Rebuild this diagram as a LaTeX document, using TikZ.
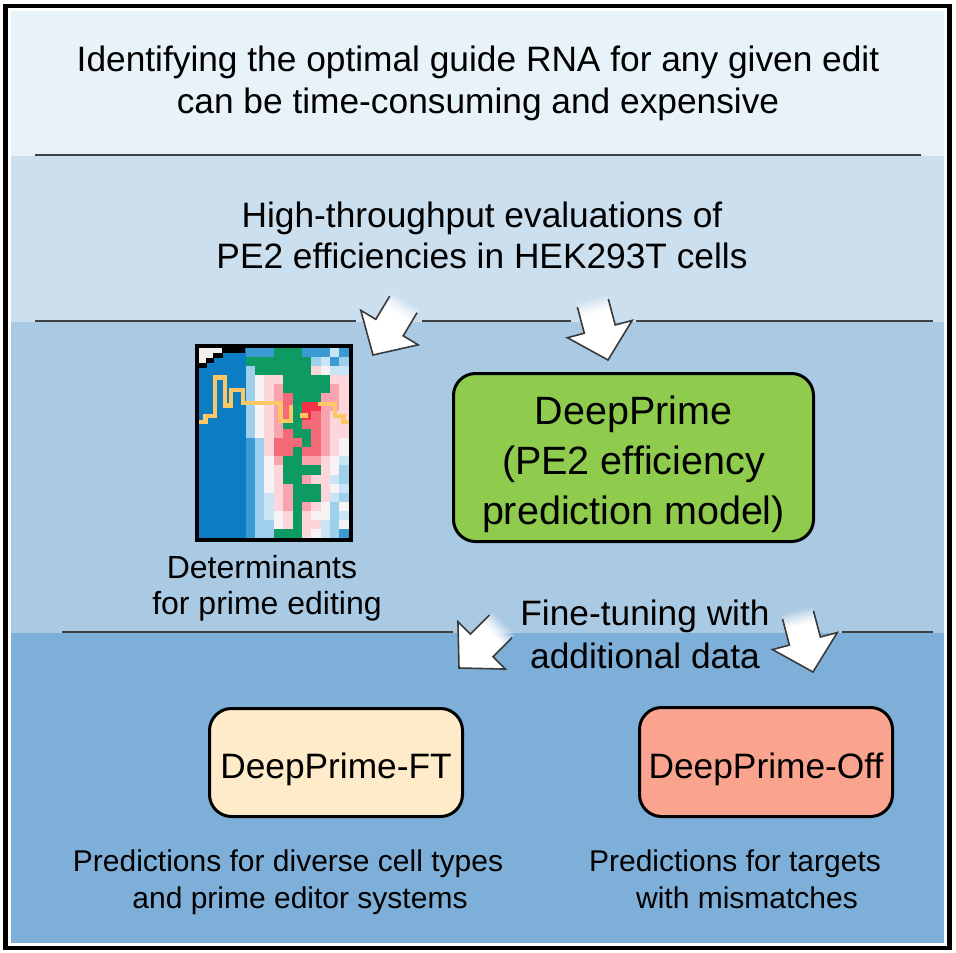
\documentclass[tikz,border=0pt]{standalone}
\usepackage{fontspec}
\setmainfont{Liberation Sans}
\definecolor{bandA}{HTML}{E7F2F9}
\definecolor{bandB}{HTML}{CBDFEF}
\definecolor{bandC}{HTML}{AACAE3}
\definecolor{bandD}{HTML}{7EAFD8}
\definecolor{divgray}{HTML}{3F3F3F}
\definecolor{arrgray}{HTML}{3A3A3A}
\definecolor{dpgreen}{HTML}{8FCC4E}
\definecolor{ftfill}{HTML}{FEEBC9}
\definecolor{offfill}{HTML}{FAA38F}
\definecolor{hmB}{HTML}{0C7DC2}
\definecolor{hmb}{HTML}{3C9AD2}
\definecolor{hmc}{HTML}{9ECFEC}
\definecolor{hml}{HTML}{C9E4F4}
\definecolor{hmw}{HTML}{F7F3F5}
\definecolor{hmp}{HTML}{FCD6DB}
\definecolor{hmq}{HTML}{F8A3AD}
\definecolor{hmr}{HTML}{F46A79}
\definecolor{hmR}{HTML}{F23246}
\definecolor{hmG}{HTML}{0E9A63}
\definecolor{hmW}{HTML}{F0F0F0}
\definecolor{hmY}{HTML}{FDC765}
\begin{document}
\begin{tikzpicture}[x=1pt,y=-1pt,
  divider/.style={draw=divgray, line width=2pt},
  bigtext/.style={font=\fontsize{35.3}{42}\selectfont, anchor=base, inner sep=0pt},
  boxtext/.style={font=\fontsize{39.5}{47}\selectfont, anchor=base, inner sep=0pt},
  midtext/.style={font=\fontsize{32}{38}\selectfont, anchor=base, inner sep=0pt},
  smalltext/.style={font=\fontsize{30}{36}\selectfont, anchor=base, inner sep=0pt},
  roundbox/.style={draw=black, line width=3pt, rounded corners=22pt, inner sep=0pt},
  arrowline/.style={draw=arrgray, line width=1.6pt, line join=miter},
  fadearrow/.pic={
    \begin{scope}
      \clip (-64,-16) -- (-32,-16) -- (-32,-33.5) -- (0,0) -- (-32,33.5) -- (-32,16) -- (-64,16) -- cycle;
      \foreach \i [evaluate=\i as \op using (\i+0.5)/12] in {0,...,11}
        {\fill[white, opacity=\op] ({-64+\i*1.3},-40) rectangle ({-64+(\i+1)*1.3+0.25},40);}
      \fill[white] (-48.5,-40) rectangle (2,40);
    \end{scope}
    \draw[arrowline] (-59,-16) -- (-32,-16) -- (-32,-33.5) -- (0,0) -- (-32,33.5) -- (-32,16) -- (-59,16);
  }]
\useasboundingbox (0,0) rectangle (956,953);
% frame
\draw[line width=4.3pt, fill=white] (5.5,6) rectangle (949.5,948);
% bands
\fill[bandA] (11,11) rectangle (943.5,155.5);
\fill[bandB] (11,155.5) rectangle (943.5,321.5);
\fill[bandC] (11,321.5) rectangle (943.5,632.5);
\fill[bandD] (11,632.5) rectangle (943.5,943);
% dividers
\draw[divider] (35,155) -- (921,155);
\draw[divider] (35,321) -- (356,321);
\draw[divider] (422,321) -- (571,321);
\draw[divider] (636,321) -- (933,321);
\draw[divider] (62,632) -- (453,632);
\draw[divider] (842,632) -- (933,632);
% texts top
\node[bigtext] (t1) at (478,71) {Identifying the optimal guide RNA for any given edit};
\node[bigtext] (t2) at (478,113) {can be time-consuming and expensive};
\node[bigtext] (h1) at (482,227) {High-throughput evaluations of};
\node[bigtext] (h2) at (482,268) {PE2 efficiencies in HEK293T cells};
% heatmap
\begin{scope}
\foreach \row [count=\j from 0] in {
 {B,B,B,B,B,b,b,b,G,G,G,b,b,b,l,b},
 {B,B,B,B,B,G,G,G,G,G,G,G,c,l,b,c},
 {B,B,B,B,B,c,G,G,G,G,G,G,p,w,l,l},
 {B,B,B,B,B,c,w,p,p,G,G,G,G,G,p,p},
 {B,B,B,B,B,c,w,p,q,G,G,G,G,G,q,p},
 {B,B,B,B,B,c,w,p,q,r,G,G,G,q,q,p},
 {B,B,B,B,B,c,w,p,q,r,G,R,R,q,q,p},
 {B,B,B,B,B,c,w,p,q,r,G,R,r,q,p,p},
 {B,B,B,B,B,c,w,p,q,G,G,r,r,q,p,p},
 {B,B,B,B,B,c,w,p,q,r,G,G,r,q,p,p},
 {B,B,B,B,B,b,c,p,r,r,r,G,r,q,p,w},
 {B,B,B,B,B,b,c,p,r,r,G,r,r,q,p,w},
 {B,B,B,B,B,b,c,w,q,G,G,q,q,p,w,l},
 {B,B,B,B,B,b,c,w,p,G,G,G,G,p,w,c},
 {B,B,B,B,B,b,c,w,p,G,G,q,p,p,l,c},
 {B,B,B,B,B,b,c,w,p,q,G,G,G,p,w,l},
 {B,B,B,B,B,b,c,l,p,q,G,G,G,p,l,c},
 {B,B,B,B,B,b,c,l,p,q,G,q,p,w,c,w},
 {B,B,B,B,B,b,c,l,w,p,G,p,w,w,c,l},
 {B,B,B,B,B,b,c,c,w,p,G,p,p,l,c,w},
 {B,B,B,B,B,b,c,c,G,G,G,p,w,l,c,b}}
{
  \foreach \c [count=\i from 0] in \row
    {\fill[hm\c] ({199+9.375*\i-0.2},{348+9.05*\j-0.2}) rectangle ({199+9.375*(\i+1)+0.2},{348+9.05*(\j+1)+0.2});}
}
\fill[hmW] (199,348) -- (222,348) -- (222,353) -- (213,353) -- (213,358) -- (206,358) -- (206,363) -- (199,363) -- cycle;
\fill[black] (222,348) rectangle (245,353);
\fill[black] (213,353) rectangle (222.5,358);
\fill[black] (206,358) rectangle (213.5,363);
\fill[black] (199,363) rectangle (206.5,368);
\draw[hmY, line width=4.5pt, line join=miter] (199,422) -- (205.5,422) -- (205.5,416) -- (215,416) -- (215,377.5) -- (225,377.5) -- (225,405.5) -- (231,405.5) -- (231,390) -- (243,390) -- (243,403) -- (280.5,403) -- (280.5,421) -- (291,421) -- (291,405);
\fill[hmY] (300,413) rectangle (308,418);
\draw[hmY, line width=4.5pt, line join=miter] (318,404) -- (335,404) -- (335,416) -- (343.5,416) -- (343.5,422) -- (350,422);
\end{scope}
\node[draw=black, line width=4pt, minimum width=154pt, minimum height=194pt, inner sep=0pt] (heat) at (274,443) {};
\node[midtext] (d1) at (262,578) {Determinants};
\node[midtext] (d2) at (267,614) {for prime editing};
% DeepPrime box
\node[roundbox, fill=dpgreen, minimum width=360pt, minimum height=168pt] (dp) at (633.5,457.5) {};
\node[boxtext] (dp1) at (633.5,424) {DeepPrime};
\node[boxtext] (dp2) at (633.5,474) {(PE2 efficiency};
\node[boxtext] (dp3) at (633.5,524) {prediction model)};
% fine tuning
\node[bigtext] (f1) at (645,625) {Fine-tuning with};
\node[bigtext] (f2) at (645,668) {additional data};
% bottom boxes
\node[roundbox, fill=ftfill, minimum width=253pt, minimum height=108pt] (ft) at (336,762.5) {};
\node[bigtext] (ftt) at (336,778) {DeepPrime-FT};
\node[roundbox, fill=offfill, minimum width=253pt, minimum height=109pt] (off) at (766,762) {};
\node[bigtext] (offt) at (766,778) {DeepPrime-Off};
\node[smalltext] (p1) at (288,871) {Predictions for diverse cell types};
\node[smalltext] (p2) at (300,908) {and prime editor systems};
\node[smalltext] (p3) at (735,871) {Predictions for targets};
\node[smalltext] (p4) at (747,908) {with mismatches};
% arrows
\pic[rotate=239] at (373,355) {fadearrow};
\pic[rotate=-75.1] at (608,360) {fadearrow};
\pic[rotate=225] at (459,668) {fadearrow};
\pic[rotate=-75.3] at (813,672) {fadearrow};
\end{tikzpicture}
\end{document}
